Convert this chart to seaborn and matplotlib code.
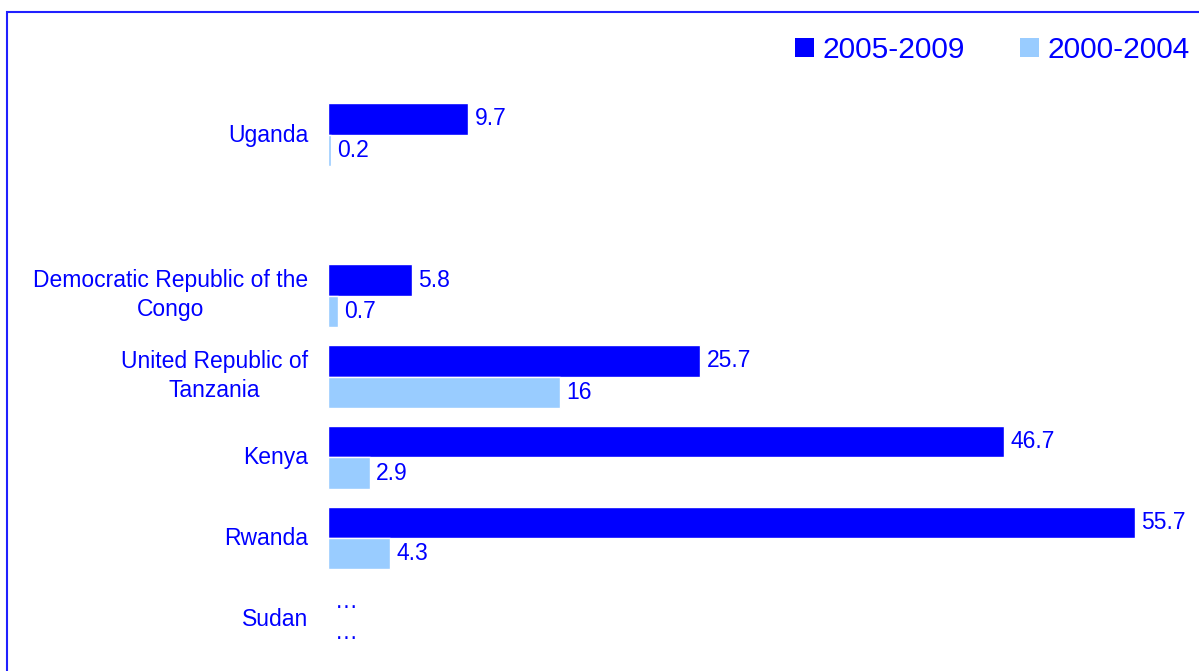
import matplotlib
matplotlib.use("Agg")
import matplotlib.pyplot as plt
import matplotlib.transforms as mtransforms
import seaborn as sns
import pandas as pd
import numpy as np
from matplotlib.patches import Rectangle, Patch

countries = ["Uganda", " ", "Democratic Republic of the\nCongo", "United Republic of\nTanzania",
             "Kenya", "Rwanda", "Sudan"]
data_countries = ["Uganda", "Democratic Republic of the\nCongo", "United Republic of\nTanzania",
                  "Kenya", "Rwanda"]
series = ["2005-2009", "2000-2004"]
v_2005_2009 = [9.7, 5.8, 25.7, 46.7, 55.7]
v_2000_2004 = [0.2, 0.7, 16, 2.9, 4.3]
missing_label = "\u2026"

colors = {"2005-2009": "#0000FF", "2000-2004": "#99CCFF"}
text_color = "#0000FF"

rows = []
for c, a, b in zip(data_countries, v_2005_2009, v_2000_2004):
    rows.append({"country": c, "period": "2005-2009", "value": a})
    rows.append({"country": c, "period": "2000-2004", "value": b})
df = pd.DataFrame(rows)

sns.set_theme(style="white")
plt.rcParams["font.family"] = ["Liberation Sans", "DejaVu Sans"]

W, H = 1199, 671
fig = plt.figure(figsize=(W / 100, H / 100), dpi=100)
ax_left, ax_right = 328, 1197
ax_top, ax_bot = 62, 659
ax = fig.add_axes([ax_left / W, 1 - ax_bot / H, (ax_right - ax_left) / W, (ax_bot - ax_top) / H])

sns.barplot(data=df, y="country", x="value", hue="period", order=countries,
            hue_order=series, palette=colors, orient="h", width=0.78,
            errorbar=None, ax=ax, legend=False, saturation=1)

ax.set_xlim(0, 60)
ax.set_ylim(6.5, -0.9)
ax.set_yticks(range(len(countries)))
ax.set_yticklabels(countries, multialignment="center", fontsize=16.5, color=text_color,
                   linespacing=1.3)
ax.tick_params(axis="y", length=0, pad=14.4)
for lbl in ax.get_yticklabels():
    dy = 6 if "\n" in lbl.get_text() else 2
    lbl.set_transform(lbl.get_transform() +
                      mtransforms.ScaledTranslation(0, dy / 100, fig.dpi_scale_trans))
ax.set_xticks([])
ax.set_xlabel("")
ax.set_ylabel("")
for s in ax.spines.values():
    s.set_visible(False)

for cont in ax.containers:
    labels = [f"{v:g}" if not np.isnan(v) else "" for v in cont.datavalues]
    ax.bar_label(cont, labels=labels, padding=4.5, fontsize=16.5, color=text_color)

# Sudan: data not available
si = countries.index("Sudan")
for off in (-0.18, 0.2):
    ax.text(0.45, si + off - 0.03, missing_label, color=text_color, fontsize=16.5,
            va="center", ha="left")

handles = [Patch(facecolor=colors[s], edgecolor="none") for s in series]
fig.legend(handles, series, loc="center right", bbox_to_anchor=(1202 / W, 1 - 50 / H),
           ncol=2, frameon=False, fontsize=21.5, labelcolor=text_color,
           handlelength=0.62, handleheight=0.62, handletextpad=0.3,
           columnspacing=1.85, borderaxespad=0)

fig.patches.append(Rectangle((7 / W, -0.05), 1.1, 1 - 12 / H + 0.05, transform=fig.transFigure,
                             fill=False, edgecolor="#2020FF", linewidth=1.5))

fig.savefig("out.png", dpi=100)
